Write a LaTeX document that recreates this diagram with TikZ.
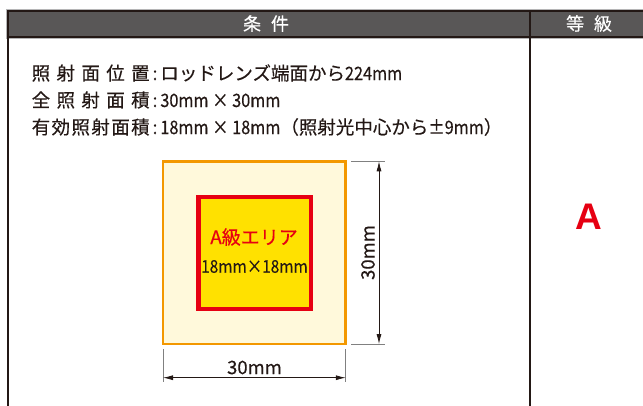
\documentclass[tikz,border=0pt]{standalone}
\usepackage{fontspec}
\setmainfont{Noto Sans CJK JP}[FakeBold=0.35]
\newfontfamily\nar{Noto Sans CJK JP}[FakeStretch=0.88,FakeBold=0.35]
\newfontfamily\dimf{Noto Sans CJK JP}[FakeBold=0.3]
\newfontfamily\arialf{Liberation Sans}
\usetikzlibrary{arrows.meta}
\definecolor{hdrfill}{HTML}{595757}
\definecolor{hdrline}{HTML}{231815}
\definecolor{hdrlight}{HTML}{B5B5B6}
\definecolor{creamfill}{HTML}{FFF9DB}
\definecolor{orangeline}{HTML}{F39800}
\definecolor{yellowfill}{HTML}{FFE100}
\definecolor{redline}{HTML}{E60012}
\definecolor{txt}{HTML}{231815}
\definecolor{extgray}{HTML}{808080}
\newcommand\jlab[1]{\makebox[118pt][s]{#1}}
\newcommand\hf{\hfill{}}
\tikzset{
  hdrtext/.style={text=white,font=\fontsize{18}{20}\selectfont,inner sep=0pt},
  bodytext/.style={text=txt,anchor=west,font=\fontsize{18.5}{20}\selectfont,inner sep=0pt},
  dimline/.style={draw=txt,line width=0.8pt,{Latex[length=10pt,width=5pt]}-{Latex[length=10pt,width=5pt]}},
  extline/.style={draw=extgray,line width=1pt},
  dimlabel/.style={text=txt,font=\dimf\fontsize{18.5}{19}\selectfont,inner sep=0pt}
}
\begin{document}
\begin{tikzpicture}[x=1pt,y=-1pt]
\useasboundingbox (0,0) rectangle (643,405);
\fill[white] (0,0) rectangle (643,405);
% header
\draw[hdrlight,line width=1pt] (6.5,9.5) rectangle (650,38.5);
\draw[hdrline,fill=hdrfill,line width=2pt] (8,11) rectangle (648,37);
% column lines
\draw[hdrline,line width=2.5pt] (8,37) -- (8,410);
\draw[hdrline,line width=2pt] (529.7,11) -- (529.7,410);
\node[hdrtext] (h1) at (266,23.5) {条\hspace{0.55em}件};
\node[hdrtext] (h2) at (589,23.5) {等\hspace{0.55em}級};
% body text
\node[bodytext] (l1) at (31.5,73) {\jlab{照\hf 射\hf 面\hf 位\hf 置}{\nar\,:\,}ロッドレンズ端面から{\nar 224mm}};
\node[bodytext] (l2) at (31.5,100) {\jlab{全\hf 照\hf 射\hf 面\hf 積}{\nar\,:\,}{\nar 30mm × 30mm}};
\node[bodytext] (l3) at (31.5,127) {\jlab{有\hf 効\hf 照\hf 射\hf 面\hf 積}{\nar\,:\,}{\nar 18mm × 18mm}（照射光中心から{\nar ±9mm}）};
% grade
\node[text=redline,inner sep=0pt,font=\arialf\bfseries\fontsize{37}{40}\selectfont] (grade) at (589,216.5) {A};
% squares
\draw[orangeline,fill=creamfill,line width=2.7pt] (163,161.3) rectangle (345.8,344);
\draw[redline,fill=yellowfill,line width=4.5pt] (198.3,197) rectangle (311,309);
\node[text=redline,inner sep=0pt,font=\fontsize{19}{20}\selectfont] (alab) at (254,237) {A級エリア};
\node[text=txt,inner sep=0pt,font=\nar\fontsize{17.5}{18}\selectfont] (size) at (254.5,266.5) {18mm×18mm};
% dimensions
\coordinate (vt) at (379,161.3);
\coordinate (vb) at (379,344);
\coordinate (et1) at (351,161.3);
\coordinate (et2) at (385,161.3);
\coordinate (eb1) at (351,344);
\coordinate (eb2) at (385,344);
\draw[extline] (et1) -- (et2);
\draw[extline] (eb1) -- (eb2);
\draw[dimline] (vt) -- (vb);
\coordinate (hl) at (163,377.7);
\coordinate (hr) at (345.8,377.7);
\coordinate (el1) at (163,349);
\coordinate (el2) at (163,382);
\coordinate (er1) at (345.8,349);
\coordinate (er2) at (345.8,382);
\draw[extline] (el1) -- (el2);
\draw[extline] (er1) -- (er2);
\draw[dimline] (hl) -- (hr);
\node[dimlabel] (dh) at (254.5,367.5) {30mm};
\node[dimlabel,rotate=90] (dv) at (368,252.5) {30mm};
\end{tikzpicture}
\end{document}
